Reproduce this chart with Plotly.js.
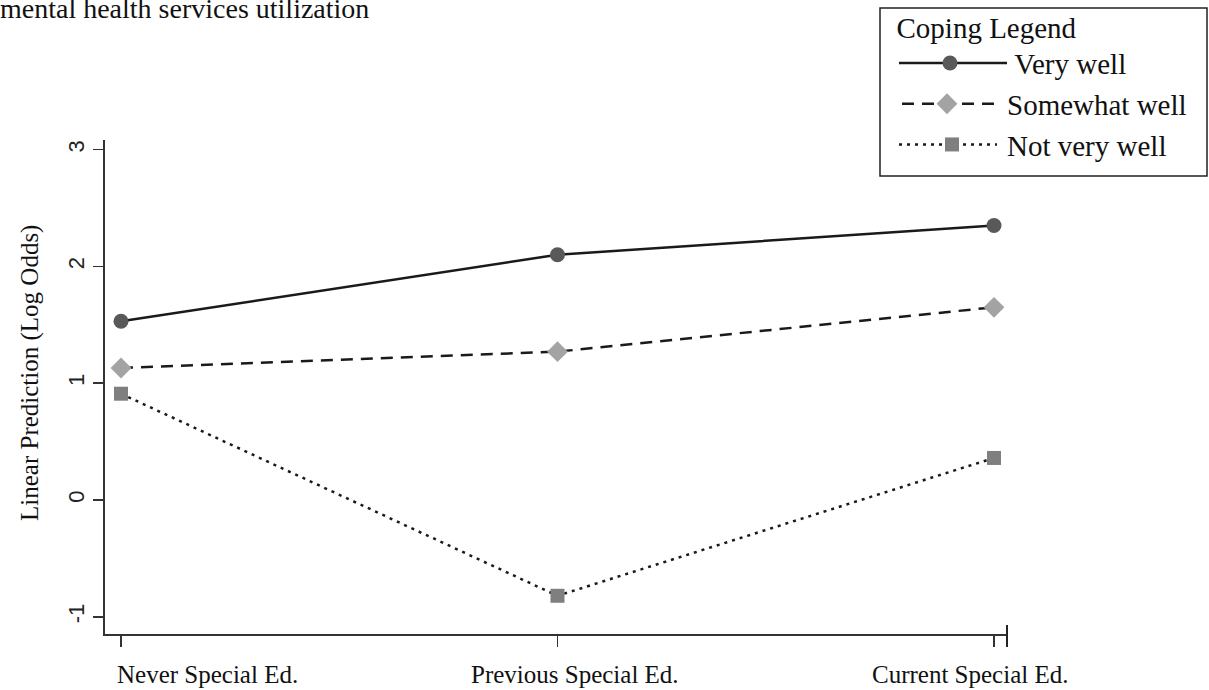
<!DOCTYPE html>
<html>
<head>
<meta charset="utf-8">
<script src="https://cdn.plot.ly/plotly-3.0.1.min.js"></script>
<style>
  html, body { margin: 0; padding: 0; background: #fff; }
  #chart { width: 1209px; height: 690px; }
</style>
</head>
<body>
<div id="chart"></div>
<script>
// ---- data ----
const categories = ["Never Special Ed.", "Previous Special Ed.", "Current Special Ed."];
const veryWell = [1.53, 2.10, 2.35];
const somewhatWell = [1.13, 1.27, 1.65];
const notVeryWell = [0.91, -0.82, 0.36];
const seriesNames = ["Very well", "Somewhat well", "Not very well"];
const yTickVals = [-1, 0, 1, 2, 3];
const yTickText = ["-1", "0", "1", "2", "3"];
const chartTitle = "mental health services utilization";
const yTitle = "Linear Prediction (Log Odds)";
const legendTitle = "Coping Legend";

const xIdx = categories.map((_, i) => i);
const serif = "Liberation Serif, Times New Roman, serif";
const sans = "Liberation Sans, Arial, sans-serif";
const nb = n => "\u00A0".repeat(n);

const traces = [
  {
    x: xIdx, y: veryWell, name: nb(13) + seriesNames[0], legendgroup: "a",
    mode: "lines+markers", type: "scatter",
    line: { color: "#1a1a1a", width: 2.5, dash: "solid" },
    marker: { symbol: "circle", size: 15, color: "#595959" }
  },
  {
    x: xIdx, y: somewhatWell, name: nb(12) + seriesNames[1], legendgroup: "b",
    mode: "lines+markers", type: "scatter",
    line: { color: "#1a1a1a", width: 2.5, dash: "12px,8px" },
    marker: { symbol: "diamond", size: 16, color: "#a3a3a3" }
  },
  {
    x: xIdx, y: notVeryWell, name: nb(12) + seriesNames[2], legendgroup: "c",
    mode: "lines+markers", type: "scatter",
    line: { color: "#1a1a1a", width: 2.5, dash: "3px,5px" },
    marker: { symbol: "square", size: 14, color: "#7f7f7f" }
  }
];

const L = 105, R = 1007, T = 140, B = 634;
const PW = R - L, PH = B - T;
const px2x = p => (p - L) / PW;
const py2y = p => (B - p) / PH;

const labelShift = [86, 17, -24];
const annotations = categories.map((c, i) => ({
  text: c, xref: "x", yref: "paper", x: i, y: 0,
  xanchor: "center", yanchor: "middle", xshift: labelShift[i], yshift: -40,
  showarrow: false, font: { family: serif, size: 25, color: "#111" }
}));
annotations.push({
  text: yTitle, xref: "paper", yref: "paper", x: px2x(30), y: py2y(373),
  xanchor: "center", yanchor: "middle", textangle: -90, showarrow: false,
  font: { family: serif, size: 25, color: "#111" }
});

const layout = {
  width: 1209, height: 690,
  paper_bgcolor: "#fff", plot_bgcolor: "#fff",
  margin: { l: L, r: 1209 - R, t: T, b: 690 - B, pad: 0, autoexpand: false },
  title: {
    text: chartTitle, xref: "container", yref: "container",
    x: 0, xanchor: "left", y: 0.988, yanchor: "middle",
    pad: { l: 0, r: 0, t: 0, b: 0 },
    font: { family: serif, size: 28, color: "#111" }
  },
  showlegend: true,
  legend: {
    x: px2x(880), y: py2y(0), xanchor: "left", yanchor: "top",
    bgcolor: "rgba(0,0,0,0)", borderwidth: 0,
    tracegroupgap: 0,
    font: { family: serif, size: 29, color: "#111" },
    title: { text: nb(2) + legendTitle, font: { family: serif, size: 29, color: "#111" } }
  },
  xaxis: {
    type: "linear", range: [(105 - 121) / 436.5, (1007 - 121) / 436.5],
    tickvals: xIdx, showticklabels: false,
    ticks: "outside", ticklen: 11, tickwidth: 1.5, tickcolor: "#333",
    showline: true, linecolor: "#333", linewidth: 2,
    showgrid: false, zeroline: false, fixedrange: true
  },
  yaxis: {
    range: [(500 - 634) / 116.8, (500 - 140) / 116.8],
    tickvals: yTickVals, ticktext: yTickText, tickangle: -90,
    ticks: "outside", ticklen: 10, tickwidth: 1.5, tickcolor: "#333",
    tickfont: { family: sans, size: 22, color: "#222" },
    showline: true, linecolor: "#333", linewidth: 2,
    showgrid: false, zeroline: false, fixedrange: true
  },
  shapes: [
    // right end bar of the x axis
    { type: "line", xref: "paper", yref: "paper", x0: 1, x1: 1,
      y0: py2y(647), y1: py2y(625), line: { color: "#222", width: 2 } },
    // legend frame
    { type: "rect", xref: "paper", yref: "paper",
      x0: px2x(880), x1: px2x(1207), y0: py2y(176), y1: py2y(8),
      line: { color: "#222", width: 1.5 }, fillcolor: "rgba(0,0,0,0)" }
  ],
  annotations: annotations
};

// legend sample geometry (Stata-style long samples): [line start, line length, marker x]
const legendSample = [[19, 108, 70], [22, 93, 67], [19, 98, 72]];

Plotly.newPlot("chart", traces, layout, { staticPlot: true, displayModeBar: false }).then(gd => {
  const items = gd.querySelectorAll(".legend .traces");
  items.forEach((it, k) => {
    const g = legendSample[k] || legendSample[0];
    it.querySelectorAll(".legendlines path").forEach(p => p.setAttribute("d", "M" + g[0] + ",0h" + g[1]));
    it.querySelectorAll(".legendpoints path").forEach(p => p.setAttribute("transform", "translate(" + g[2] + ",0)"));
  });
});
</script>
</body>
</html>
